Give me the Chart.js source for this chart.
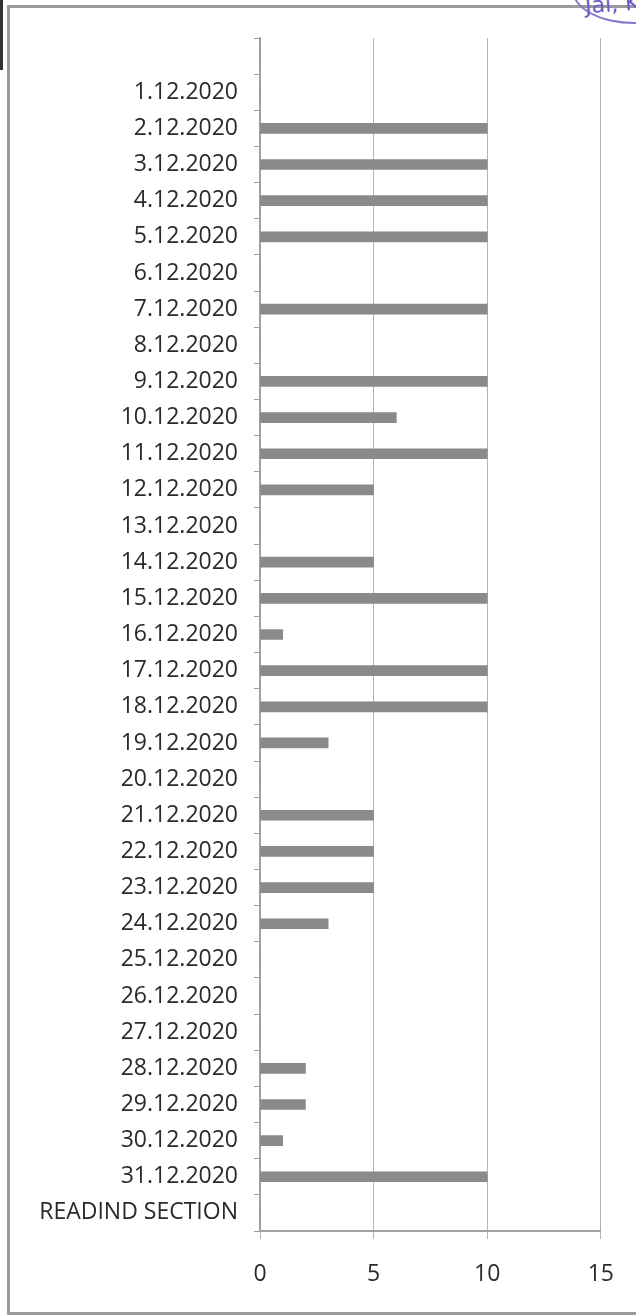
<!DOCTYPE html>
<html>
<head>
<meta charset="utf-8">
<script src="https://cdn.jsdelivr.net/npm/chart.js@4.4.1/dist/chart.umd.min.js"></script>
<style>
  html, body { margin: 0; padding: 0; background: #fff; }
  #wrap { position: relative; width: 636px; height: 1315px; overflow: hidden; }
  #frame { position: absolute; left: 7px; top: 5px; width: 660px; height: 1310px;
           border: 3px solid #9a9a9a; box-sizing: border-box; }
  #edge { position: absolute; left: 0; top: 0; width: 3px; height: 70px; background: #333; }
  #stamp { position: absolute; left: 572px; top: -44px; width: 120px; height: 64px;
           border: 2px solid #8877cc; border-radius: 50%; }
  #stamptxt { position: absolute; left: 585px; top: -9px; color: #6a5acd; white-space: nowrap;
              font: 22px 'DejaVu Sans', sans-serif; transform: rotate(-4deg); }
  canvas { position: absolute; left: 0; top: 0; }
</style>
</head>
<body>
<div id="wrap">
  <div id="frame"></div>
  <div id="edge"></div>
  <div id="stamp"></div>
  <div id="stamptxt">Jai, Ke</div>
  <canvas id="c" width="636" height="1315"></canvas>
</div>
<script>
const categories = ['', '1.12.2020', '2.12.2020', '3.12.2020', '4.12.2020', '5.12.2020', '6.12.2020',
  '7.12.2020', '8.12.2020', '9.12.2020', '10.12.2020', '11.12.2020', '12.12.2020', '13.12.2020',
  '14.12.2020', '15.12.2020', '16.12.2020', '17.12.2020', '18.12.2020', '19.12.2020', '20.12.2020',
  '21.12.2020', '22.12.2020', '23.12.2020', '24.12.2020', '25.12.2020', '26.12.2020', '27.12.2020',
  '28.12.2020', '29.12.2020', '30.12.2020', '31.12.2020', 'READIND SECTION'];
const values = [0, 0, 10, 10, 10, 10, 0, 10, 0, 10, 6, 10, 5, 0, 5, 10, 1, 10, 10, 3, 0,
  5, 5, 5, 3, 0, 0, 0, 2, 2, 1, 10, 0];
const xTicks = [0, 5, 10, 15];

const FONT = { family: "'Open Sans', 'Liberation Sans', sans-serif", size: 23 };

new Chart(document.getElementById('c'), {
  type: 'bar',
  data: {
    labels: categories,
    datasets: [{
      data: values,
      backgroundColor: '#8a8a8a',
      borderWidth: 0,
      barThickness: 10
    }]
  },
  options: {
    indexAxis: 'y',
    responsive: false,
    animation: false,
    layout: { padding: { left: 0, right: 35, top: 38, bottom: 0 } },
    plugins: { legend: { display: false }, tooltip: { enabled: false } },
    scales: {
      x: {
        min: xTicks[0],
        max: xTicks[xTicks.length - 1],
        afterBuildTicks: (s) => { s.ticks = xTicks.map(v => ({ value: v })); },
        grid: { color: '#b4b4b4', lineWidth: 1, tickLength: 8, drawTicks: true },
        border: { color: '#a0a0a0', width: 2 },
        ticks: { font: FONT, color: '#2a2a2a', padding: 22 },
        afterFit: (s) => { s.height = 84; }
      },
      y: {
        grid: { drawOnChartArea: false, offset: true, tickLength: 6, color: '#a0a0a0' },
        border: { color: '#a0a0a0', width: 2 },
        ticks: { font: FONT, color: '#2a2a2a', padding: 16, autoSkip: false },
        afterFit: (s) => { s.width = 260; }
      }
    }
  }
});
</script>
</body>
</html>
